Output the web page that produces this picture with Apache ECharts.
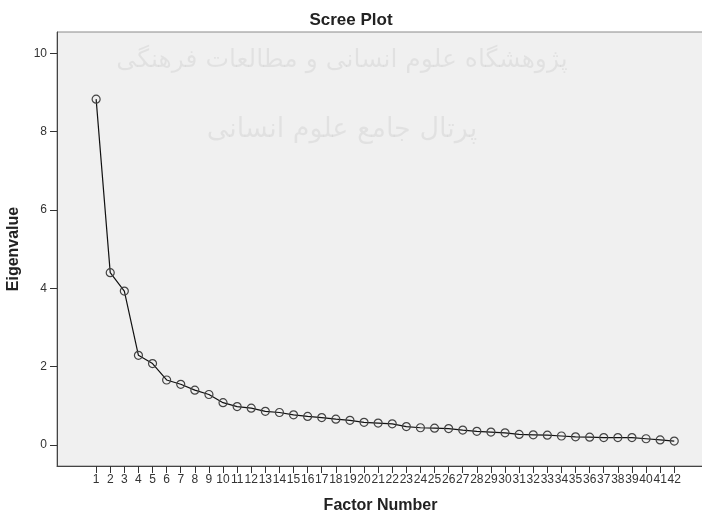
<!DOCTYPE html>
<html>
<head>
<meta charset="utf-8">
<script src="https://cdn.jsdelivr.net/npm/echarts@6/dist/echarts.min.js"></script>
<style>
  html, body { margin: 0; padding: 0; background: #fff; }
  #chart { width: 702px; height: 513px; }
</style>
</head>
<body>
<div id="chart"></div>
<script>
// factor numbers and eigenvalues
const factors = [1, 2, 3, 4, 5, 6, 7, 8, 9, 10, 11, 12, 13, 14, 15, 16, 17, 18, 19, 20, 21,
  22, 23, 24, 25, 26, 27, 28, 29, 30, 31, 32, 33, 34, 35, 36, 37, 38, 39, 40, 41, 42]
const eigenvalues = [8.83, 4.40, 3.93, 2.29, 2.08, 1.66, 1.55, 1.40, 1.29, 1.08, 0.98, 0.94,
  0.86, 0.83, 0.77, 0.73, 0.70, 0.66, 0.63, 0.58, 0.56, 0.54, 0.47, 0.44, 0.43, 0.42, 0.38,
  0.35, 0.33, 0.31, 0.27, 0.26, 0.25, 0.23, 0.21, 0.20, 0.19, 0.19, 0.19, 0.16, 0.13, 0.10]
const yTicks = [0, 2, 4, 6, 8, 10]

const watermark = ['پژوهشگاه علوم انسانی و مطالعات فرهنگی', 'پرتال جامع علوم انسانی']

const chart = echarts.init(document.getElementById('chart'))

const option = {
  animation: false,
  title: {
    text: 'Scree Plot',
    left: 'center',
    top: 7,
    textStyle: { fontFamily: 'Liberation Sans', fontSize: 17, fontWeight: 'bold', color: '#222' }
  },
  grid: {
    left: 57,
    top: 32,
    right: -2,
    bottom: 47,
    outerBoundsMode: 'none',
    containLabel: false,
    show: true,
    backgroundColor: '#f0f0f0',
    borderColor: '#8a8a8a',
    borderWidth: 1
  },
  graphic: [
    {
      type: 'text',
      x: 342,
      y: 60,
      z: 1,
      silent: true,
      style: {
        text: watermark[0],
        font: '25px "DejaVu Sans"',
        fill: 'rgba(0,0,0,0.06)',
        align: 'center',
        verticalAlign: 'middle'
      }
    },
    {
      type: 'text',
      x: 342,
      y: 130,
      z: 1,
      silent: true,
      style: {
        text: watermark[1],
        font: '27px "DejaVu Sans"',
        fill: 'rgba(0,0,0,0.06)',
        align: 'center',
        verticalAlign: 'middle'
      }
    }
  ],
  xAxis: {
    type: 'value',
    min: -1.775,
    max: 44.11,
    name: 'Factor Number',
    nameLocation: 'middle',
    nameGap: 32,
    nameTextStyle: { fontFamily: 'Liberation Sans', fontSize: 16, fontWeight: 'bold', color: '#222' },
    axisLine: { show: true, onZero: false, lineStyle: { color: '#444', width: 1 } },
    axisTick: { show: true, length: 7, customValues: factors, lineStyle: { color: '#333' } },
    axisLabel: {
      customValues: factors,
      margin: 8,
      fontFamily: 'Liberation Sans',
      fontSize: 12,
      color: '#333'
    },
    splitLine: { show: false }
  },
  yAxis: {
    type: 'value',
    min: -0.536,
    max: 10.544,
    name: 'Eigenvalue',
    nameLocation: 'middle',
    nameGap: 35,
    nameTextStyle: { fontFamily: 'Liberation Sans', fontSize: 16, fontWeight: 'bold', color: '#222' },
    axisLine: { show: true, onZero: false, lineStyle: { color: '#444', width: 1 } },
    axisTick: { show: true, length: 7, customValues: yTicks, lineStyle: { color: '#333' } },
    axisLabel: {
      customValues: yTicks,
      margin: 10,
      fontFamily: 'Liberation Sans',
      fontSize: 12,
      color: '#333'
    },
    splitLine: { show: false }
  },
  series: [
    {
      type: 'line',
      data: factors.map((f, i) => [f, eigenvalues[i]]),
      symbol: 'circle',
      symbolSize: 8,
      z: 3,
      lineStyle: { color: '#111', width: 1.2 },
      itemStyle: { color: 'rgba(0,0,0,0)', borderColor: '#444', borderWidth: 1.2 }
    }
  ]
}

chart.setOption(option)
</script>
</body>
</html>
